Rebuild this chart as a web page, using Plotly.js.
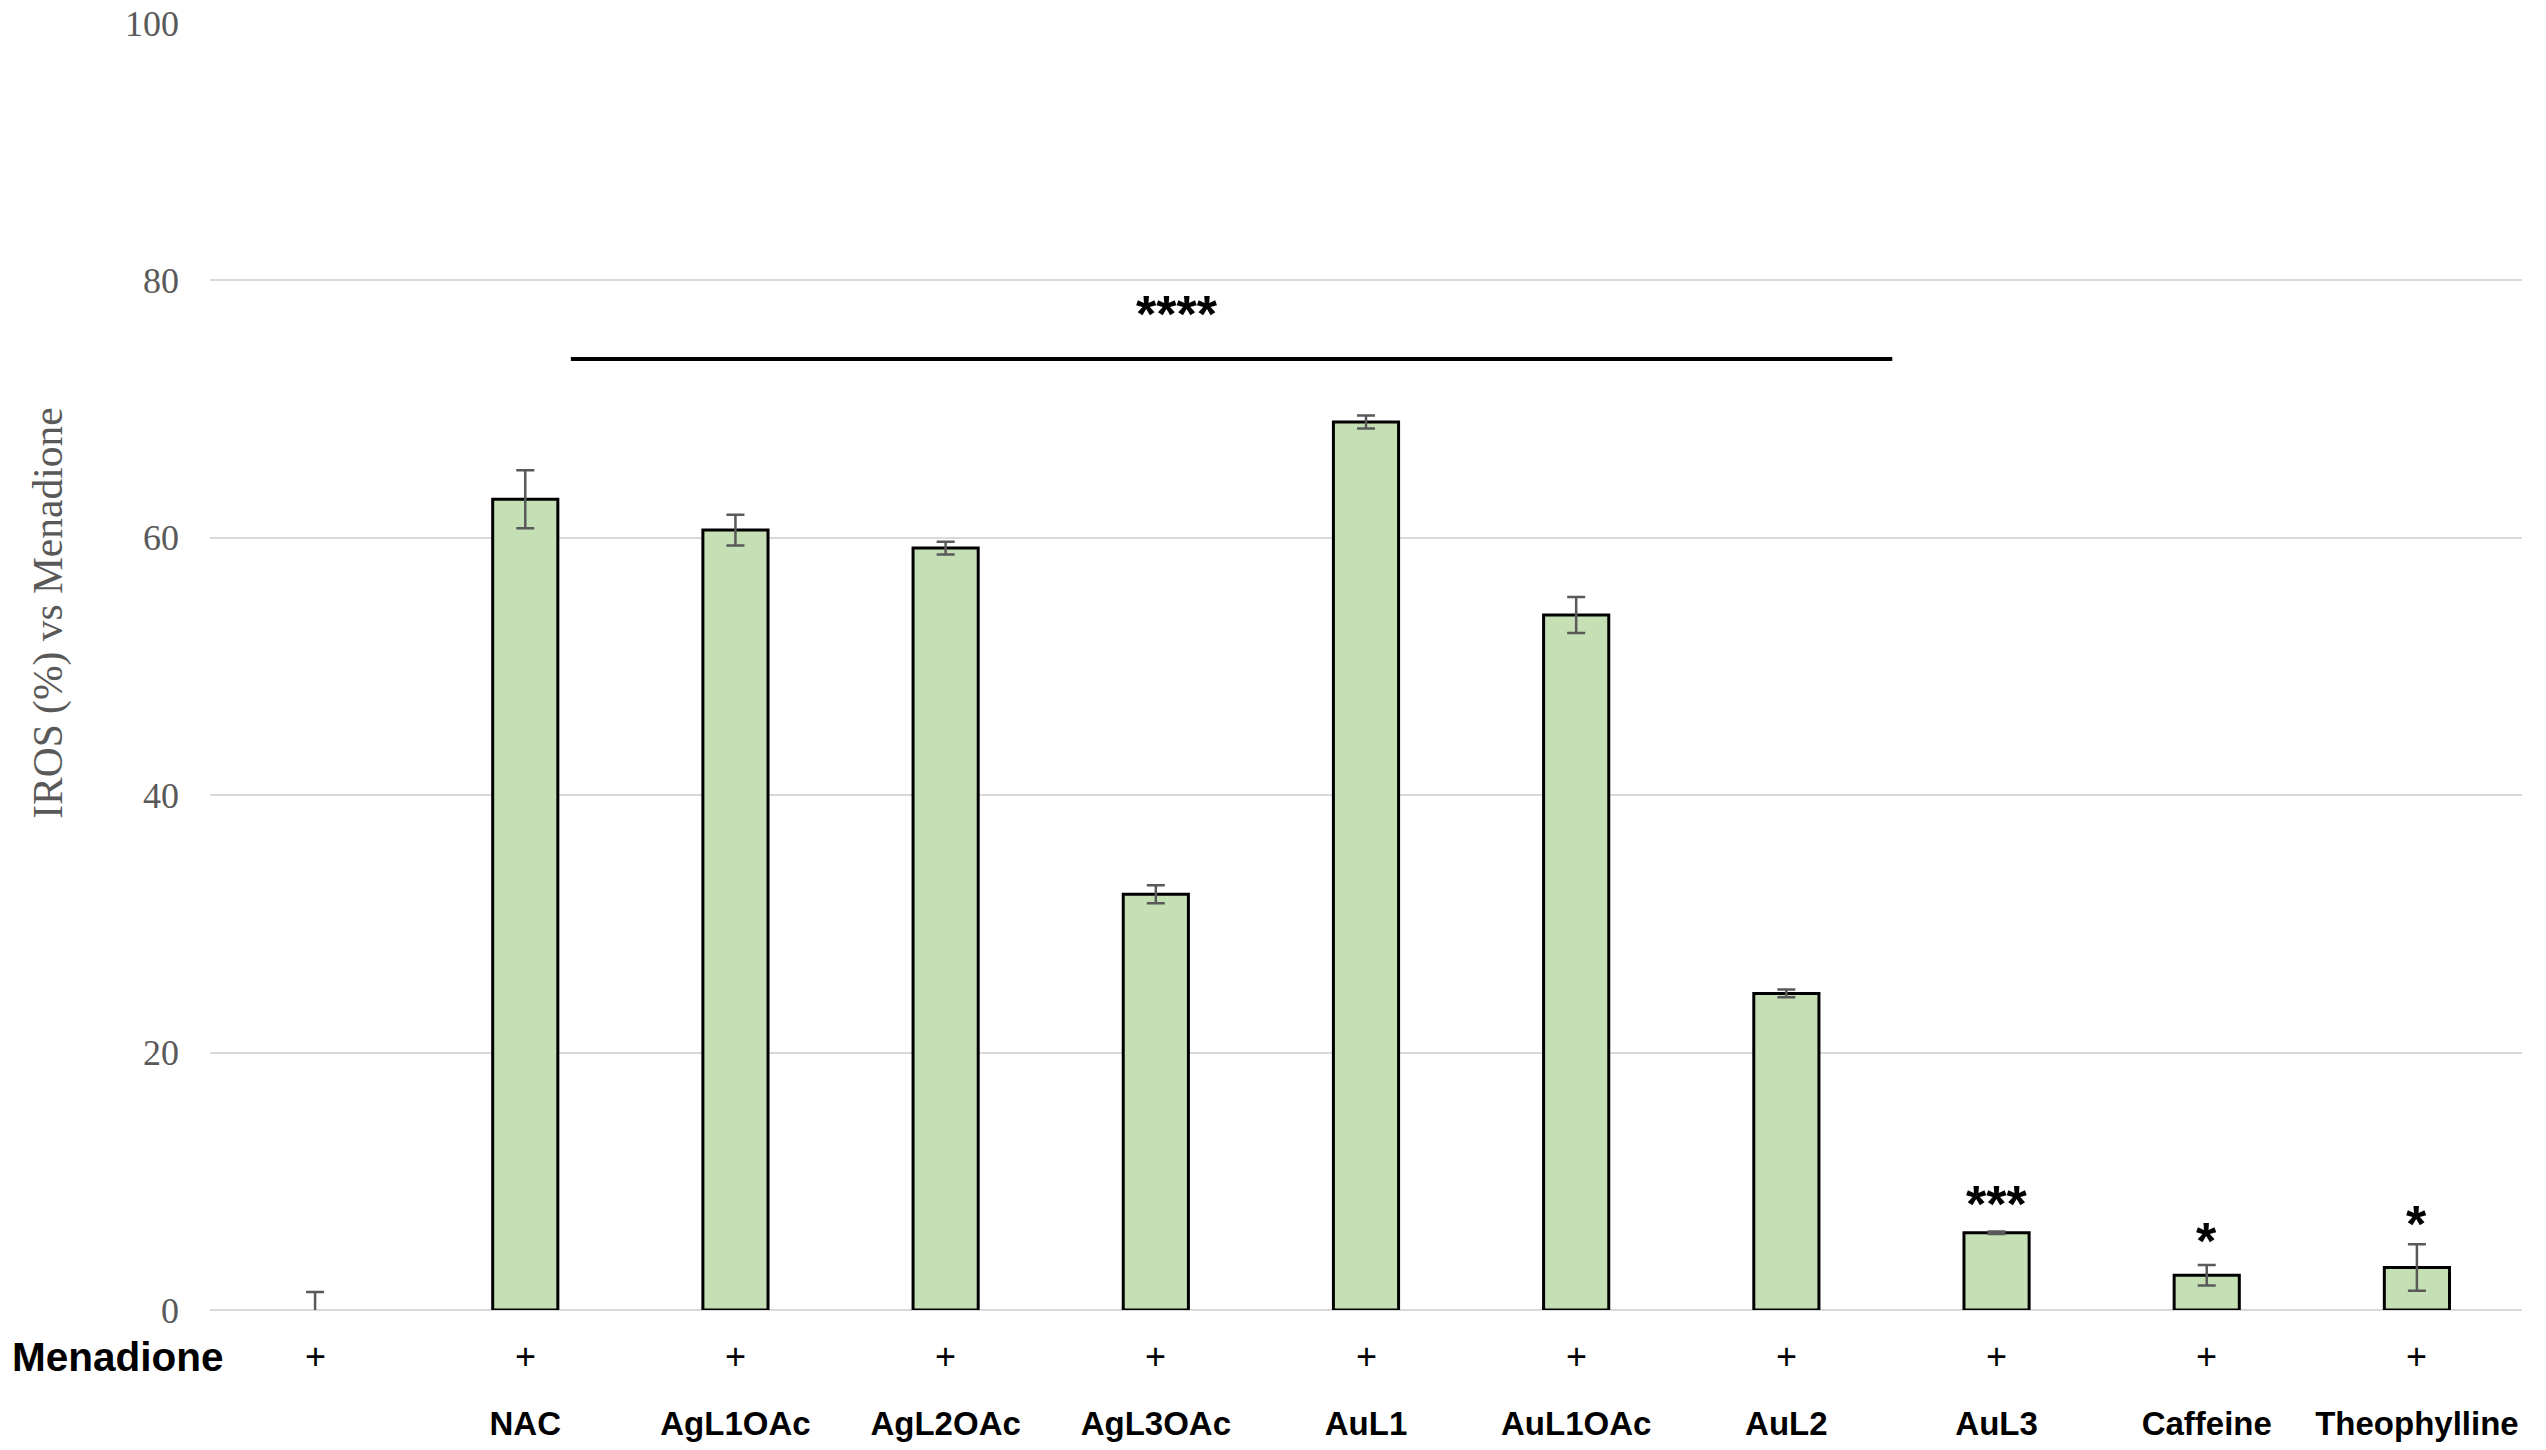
<!DOCTYPE html>
<html>
<head>
<meta charset="utf-8">
<script src="https://cdn.plot.ly/plotly-3.0.1.min.js"></script>
<style>html,body{margin:0;padding:0;background:#fff;}#chart{width:2546px;height:1450px;}</style>
</head>
<body>
<div id="chart"></div>
<script>
// ---- data ----
const categories = ["", "NAC", "AgL1OAc", "AgL2OAc", "AgL3OAc", "AuL1", "AuL1OAc", "AuL2", "AuL3", "Caffeine", "Theophylline"];
const menadione = ["+", "+", "+", "+", "+", "+", "+", "+", "+", "+", "+"];
const iros = [0, 63.0, 60.6, 59.2, 32.3, 69.0, 54.0, 24.6, 6.0, 2.7, 3.3];
const irosSD = [1.4, 2.25, 1.2, 0.5, 0.7, 0.5, 1.4, 0.3, 0.1, 0.8, 1.8];
const stars = ["", "", "", "", "", "", "", "", "***", "*", "*"];
const starY = [0, 0, 0, 0, 0, 0, 0, 0, 8.2, 5.4, 6.7];
const groupStars = "****";
const groupFrom = 1.217, groupTo = 7.504, groupY = 73.9, groupStarX = 4.10, groupStarY = 77.4;
const yTitle = "IROS (%) vs Menadione";
const rowLabel = "Menadione";

const xIdx = categories.map((c, i) => i);

const serif = "Liberation Serif, Times New Roman, serif";
const sans = "Liberation Sans, Arial, sans-serif";

const trace = {
  type: "bar",
  x: xIdx,
  y: iros,
  width: 0.31,
  marker: {
    color: "#c5e0b4",
    line: { color: "#000000", width: iros.map(v => v === 0 ? 0 : 3) }
  },
  error_y: {
    type: "data",
    array: irosSD,
    symmetric: true,
    color: "#595959",
    thickness: 2.5,
    width: 9
  },
  hoverinfo: "skip"
};

const annotations = [];
xIdx.forEach(i => {
  annotations.push({
    x: i, xref: "x", y: -0.0365, yref: "paper",
    text: menadione[i], showarrow: false,
    xanchor: "center", yanchor: "middle",
    font: { family: sans, size: 36, color: "#000" }
  });
  if (stars[i]) {
    annotations.push({
      x: i, xref: "x", y: starY[i], yref: "y",
      text: stars[i], showarrow: false,
      xanchor: "center", yanchor: "middle",
      font: { family: sans, size: 52, color: "#000", weight: "bold" }
    });
  }
});
annotations.push({
  x: groupStarX, xref: "x", y: groupStarY, yref: "y",
  text: groupStars, showarrow: false,
  xanchor: "center", yanchor: "middle",
  font: { family: sans, size: 52, color: "#000", weight: "bold" }
});
annotations.push({
  x: -0.0865, xref: "paper", y: -0.0365, yref: "paper",
  text: rowLabel, showarrow: false,
  xanchor: "left", yanchor: "middle",
  font: { family: sans, size: 40.5, color: "#000", weight: "bold" }
});
annotations.push({
  x: -0.0696, xref: "paper", y: 0.541, yref: "paper",
  text: yTitle, showarrow: false, textangle: -90,
  xanchor: "center", yanchor: "middle",
  font: { family: serif, size: 41.5, color: "#595959" }
});

const layout = {
  width: 2546,
  height: 1450,
  margin: { l: 210, r: 24, t: 23, b: 140 },
  paper_bgcolor: "#ffffff",
  plot_bgcolor: "#ffffff",
  showlegend: false,
  xaxis: {
    range: [-0.5, 10.5],
    tickmode: "array",
    tickvals: xIdx,
    ticktext: categories,
    showgrid: false,
    zeroline: false,
    showline: false,
    ticks: "",
    ticklabelstandoff: 91,
    tickfont: { family: sans, size: 33, color: "#000", weight: "bold" }
  },
  yaxis: {
    range: [0, 100],
    dtick: 20,
    tick0: 0,
    showgrid: true,
    gridcolor: "#d9d9d9",
    gridwidth: 2,
    zeroline: true,
    zerolinecolor: "#d9d9d9",
    zerolinewidth: 2,
    showline: false,
    ticks: "",
    ticklabelstandoff: 30,
    tickfont: { family: serif, size: 36, color: "#595959" }
  },
  shapes: [{
    type: "line", xref: "x", yref: "y",
    x0: groupFrom, x1: groupTo, y0: groupY, y1: groupY,
    line: { color: "#000", width: 4 }
  }],
  annotations: annotations
};

Plotly.newPlot("chart", [trace], layout, { displayModeBar: false, staticPlot: true });
</script>
</body>
</html>
